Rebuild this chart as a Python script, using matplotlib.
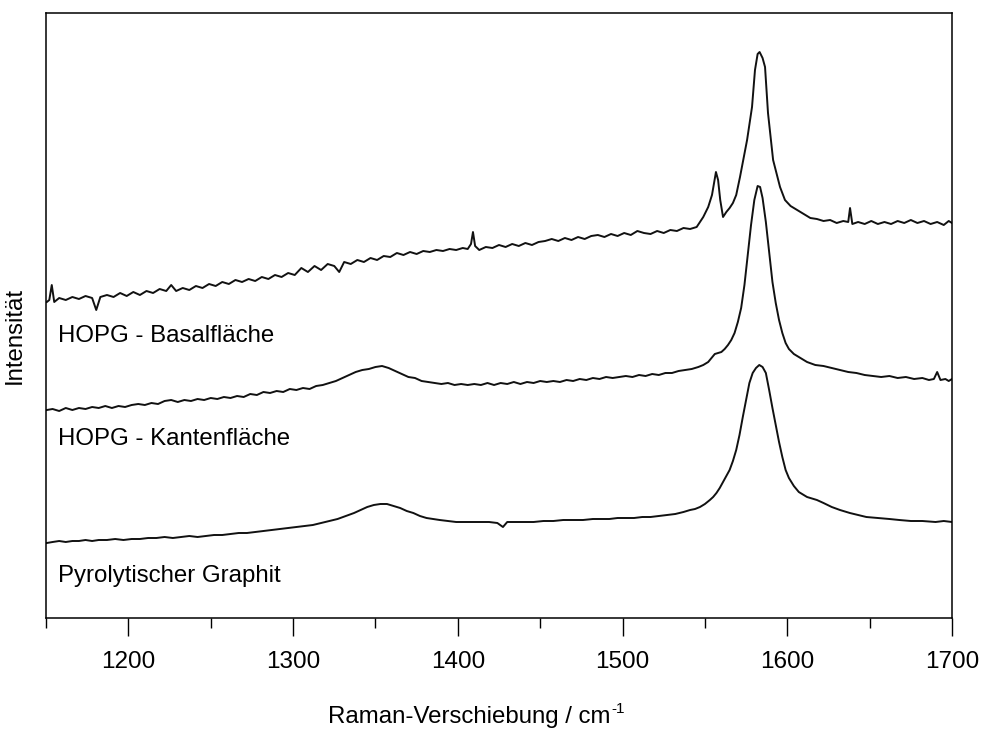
import matplotlib
matplotlib.use("Agg")
import matplotlib.pyplot as plt
from matplotlib.ticker import MultipleLocator
from matplotlib.transforms import offset_copy

plt.rcParams['font.family'] = ['Liberation Sans', 'DejaVu Sans']

# ---------------- data (intensity in arbitrary units) ----------------
basal_x = [1150.5, 1152, 1153.5, 1155, 1158, 1162, 1166, 1170, 1174, 1178, 1180.5, 1183, 1187, 1191, 1195, 1199,
           1203, 1207, 1211, 1215, 1219, 1223, 1226, 1229, 1233, 1237, 1241, 1245, 1249, 1253, 1257, 1261, 1265,
           1269, 1273, 1277, 1281, 1285, 1289, 1293, 1297, 1301, 1305, 1309, 1313, 1317, 1321, 1325, 1328, 1331,
           1335, 1339, 1343, 1347, 1351, 1355, 1359, 1363, 1367, 1371, 1375, 1379, 1383, 1387, 1391, 1395, 1399,
           1403, 1406, 1408, 1409.2, 1410.5, 1413, 1417, 1421, 1425, 1429, 1433, 1437, 1441, 1445, 1449, 1453,
           1457, 1461, 1465, 1469, 1473, 1477, 1481, 1485, 1489, 1493, 1497, 1501, 1505, 1509, 1513, 1517, 1521,
           1525, 1529, 1533, 1537, 1541, 1545, 1549, 1552, 1554.3, 1556.7, 1558, 1559.3, 1561, 1563, 1565, 1567,
           1569, 1571.3, 1573.5, 1575.6, 1578.6, 1580.4, 1582, 1583.2, 1585, 1586.5, 1588.3, 1591.4, 1595.6,
           1598.6, 1602, 1606, 1610, 1614, 1618, 1622, 1626, 1630, 1634, 1637, 1638.1, 1639.5, 1643, 1647, 1651,
           1655, 1659, 1663, 1667, 1671, 1675, 1679, 1683, 1687, 1691, 1695, 1698, 1700]
basal_y = [316, 318, 333, 316, 320, 318, 321, 319, 322, 320, 308, 321, 323, 321, 325, 322,
           326, 323, 327, 325, 329, 327, 333, 327, 330, 328, 332, 330, 334, 332, 336, 334, 338,
           336, 339, 337, 341, 339, 343, 341, 345, 343, 350, 346, 352, 348, 354, 352, 346, 356,
           354, 358, 356, 360, 358, 362, 361, 365, 363, 366, 364, 367, 366, 368, 367, 369, 368,
           370, 369, 374, 386, 372, 368, 371, 370, 373, 371, 374, 372, 375, 373, 376, 377,
           379, 377, 380, 378, 381, 379, 382, 383, 381, 384, 382, 385, 383, 387, 385, 384, 387,
           385, 388, 387, 390, 389, 391, 401, 411, 423, 446, 438, 418, 401, 406, 410, 415,
           423, 441, 460, 478, 511, 548, 564, 566, 560, 551, 505, 458, 431,
           418, 412, 408, 404, 400, 399, 397, 398, 395, 397, 396, 410, 394, 396, 394, 397,
           394, 396, 394, 397, 395, 398, 395, 397, 394, 396, 393, 397, 395]

kanten_x = [1150.5, 1154, 1158, 1162, 1166, 1170, 1174, 1178, 1182, 1186, 1190, 1194, 1198, 1202, 1206, 1210,
            1214, 1218, 1222, 1226, 1230, 1234, 1238, 1242, 1246, 1250, 1254, 1258, 1262, 1266, 1270, 1274,
            1278, 1282, 1286, 1290, 1294, 1298, 1302, 1306, 1310, 1314, 1318, 1322, 1326, 1330, 1334, 1338,
            1342, 1346, 1350, 1354, 1358, 1362, 1366, 1370, 1374, 1378, 1382, 1386, 1390, 1394, 1398, 1402,
            1406, 1410, 1414, 1418, 1422, 1426, 1430, 1434, 1438, 1442, 1446, 1450, 1454, 1458, 1462, 1466,
            1470, 1474, 1478, 1482, 1486, 1490, 1494, 1498, 1502, 1506, 1510, 1514, 1518, 1522, 1526, 1530,
            1534, 1538, 1542, 1546, 1549, 1552, 1554, 1556, 1558, 1560, 1562, 1564, 1566, 1568, 1570, 1572,
            1574, 1576, 1578, 1580, 1582, 1583.5, 1585, 1587, 1589, 1591, 1593, 1595, 1597, 1599, 1601, 1604,
            1608, 1612, 1617, 1622, 1627, 1632, 1637, 1642, 1647, 1652, 1657, 1662, 1667, 1672, 1677, 1682,
            1686, 1689, 1691, 1693, 1696, 1698, 1700]
kanten_y = [208, 209, 207, 210, 208, 210, 209, 211, 210, 212, 210, 212, 211, 213, 214, 213,
            215, 214, 217, 218, 216, 218, 217, 219, 218, 220, 219, 221, 220, 222, 221, 224,
            223, 226, 225, 227, 226, 229, 228, 230, 229, 232, 233, 235, 237, 240, 243, 246,
            248, 249, 251, 252, 250, 247, 244, 241, 240, 237, 236, 235, 234, 235, 233, 234,
            233, 234, 233, 235, 233, 235, 234, 236, 234, 236, 235, 237, 236, 237, 236, 238,
            237, 239, 238, 240, 239, 241, 240, 241, 242, 241, 243, 242, 244, 243, 245, 245,
            247, 248, 249, 251, 253, 256, 260, 264, 265, 266, 269, 273, 278, 285, 296, 310,
            333, 363, 393, 418, 432, 431, 420, 396, 366, 336, 315, 298, 285, 275, 269, 264,
            260, 256, 253, 252, 250, 248, 246, 245, 243, 242, 241, 242, 240, 241, 239, 240,
            238, 239, 246, 238, 239, 237, 239]

pyro_x = [1150.5, 1154, 1158, 1162, 1166, 1170, 1174, 1178, 1182, 1187, 1192, 1197, 1202, 1207, 1212, 1217,
          1222, 1227, 1232, 1237, 1242, 1247, 1252, 1257, 1262, 1267, 1272, 1277, 1282, 1287, 1292, 1297,
          1302, 1307, 1312, 1317, 1322, 1327, 1332, 1337, 1341, 1345, 1349, 1353, 1357, 1361, 1365, 1369,
          1373, 1377, 1381, 1385, 1389, 1394, 1399, 1404, 1409, 1414, 1419, 1424, 1427.4, 1430, 1434, 1440,
          1446, 1452, 1458, 1464, 1470, 1476, 1482, 1487, 1492, 1497, 1502, 1507, 1512, 1517, 1522, 1527,
          1532, 1537, 1541, 1544, 1547, 1550, 1553, 1555, 1557, 1559, 1561, 1563, 1565, 1567, 1569, 1571,
          1573, 1575, 1577, 1579, 1581, 1583, 1585, 1587, 1589, 1591, 1593, 1595, 1597, 1599, 1601, 1604,
          1607, 1612, 1618, 1622, 1627, 1632, 1638, 1643, 1648, 1655, 1662, 1668, 1675, 1682, 1690, 1695, 1700]
pyro_y = [75, 76, 77, 76, 77, 77, 78, 77, 78, 78, 79, 78, 79, 79, 80, 80,
          81, 80, 81, 82, 81, 82, 83, 83, 84, 85, 85, 86, 87, 88, 89, 90,
          91, 92, 93, 95, 97, 99, 102, 105, 108, 111, 113, 114, 114, 112, 110, 107,
          105, 102, 100, 99, 98, 97, 96, 96, 96, 96, 96, 95, 91, 96, 96, 96,
          96, 97, 97, 98, 98, 98, 99, 99, 99, 100, 100, 100, 101, 101, 102, 103,
          104, 106, 108, 109, 111, 114, 118, 121, 125, 130, 136, 142, 148, 157, 168, 183,
          201, 218, 235, 245, 250, 253, 251, 245, 228, 210, 193, 176, 161, 148, 140, 132,
          126, 121, 118, 115, 111, 108, 105, 103, 101, 100, 99, 98, 97, 97, 96, 97, 96]

labels = ["HOPG - Basalfläche", "HOPG - Kantenfläche", "Pyrolytischer Graphit"]
xticks_major = [1200, 1300, 1400, 1500, 1600, 1700]

# ---------------- figure ----------------
W, H = 985, 734
fig = plt.figure(figsize=(W / 100, H / 100), dpi=100)
ax = fig.add_axes([46 / W, (H - 618) / H, 906 / W, 605 / H])

for xs, ys in [(basal_x, basal_y), (kanten_x, kanten_y), (pyro_x, pyro_y)]:
    ax.plot(xs, ys, color='#111111', lw=1.4)

ax.set_xlim(1150, 1700)
ax.set_ylim(0, 605)
ax.set_xticks(xticks_major)
ax.set_xticklabels([str(t) for t in xticks_major])
ax.xaxis.set_minor_locator(MultipleLocator(100, offset=50))
ax.tick_params(axis='x', which='major', direction='out', length=13, width=1.0,
               labelsize=17.5, pad=11, colors='black')
ax.tick_params(axis='x', which='minor', direction='out', length=7.2, width=1.0)
ax.set_yticks([])
for s in ax.spines.values():
    s.set_linewidth(1.1)
    s.set_color('black')

label_ypos = [(618 - 342) / 605, (618 - 445) / 605, (618 - 582) / 605]
for lab, yy in zip(labels, label_ypos):
    ax.text((58 - 46) / 906, yy, lab, transform=ax.transAxes, fontsize=17.3,
            ha='left', va='baseline', color='black')

# x-axis label with a small raised "-1"
xl = fig.text(328 / W, (H - 723) / H, 'Raman-Verschiebung / cm',
              fontsize=17.3, ha='left', va='baseline')
fig.canvas.draw()
bb = xl.get_window_extent(renderer=fig.canvas.get_renderer())
fig.text(bb.x1 / W + 1 / W, (H - 723) / H + 10 / H, '-1', fontsize=11,
         ha='left', va='baseline')

fig.text(15 / W, (H - 336) / H, 'Intensität', fontsize=17.3, rotation=90,
         ha='center', va='center')

fig.savefig('out.png', dpi=100)
